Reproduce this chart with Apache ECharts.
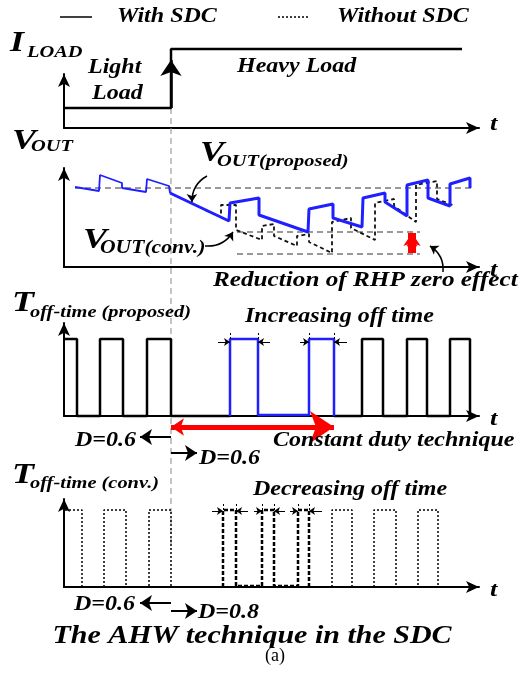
<!DOCTYPE html>
<html>
<head>
<meta charset="utf-8">
<script src="https://cdn.jsdelivr.net/npm/echarts@6/dist/echarts.min.js"></script>
<style>
  html, body { margin: 0; padding: 0; background: #fff; }
  #chart { width: 519px; height: 685px; }
</style>
</head>
<body>
<div id="chart"></div>
<script>
// t = position along the shared time axis, v = height above each panel's t axis
var iloadT = [0, 107, 107, 398];
var iloadV = [20, 20, 79, 79];

var voutLightT = [11, 35, 36, 58, 58, 82, 83, 105, 106];
var voutLightV = [80, 76, 92, 84, 79, 75, 88, 81, 74];
var voutPropT = [106, 165, 166, 195, 195, 244, 245, 269, 269, 298, 299, 321, 321, 343, 343, 364, 364, 386, 386, 406, 406];
var voutPropV = [74, 46, 64, 69, 52, 35, 58, 63, 49, 40, 69, 74, 65, 51, 82, 87, 69, 61, 83, 89, 79];
var voutConvT = [141, 157, 157, 172, 172, 198, 198, 210, 210, 233, 233, 245, 245, 268, 268, 287, 287, 311, 311, 330, 330, 352, 352, 373, 373, 391];
var voutConvV = [57, 50, 62, 62, 37, 27, 41, 43, 31, 21, 31, 33, 25, 14, 45, 49, 39, 27, 64, 68, 61, 45, 82, 86, 68, 61];
var refLevels = [79, 35, 13];
var refStart = [11, 173, 173];
var refEnd = [409, 356, 356];

var propPulse1T = [1, 13, 13, 36, 36, 59, 59, 83, 83, 107, 107, 166];
var propPulse1V = [77, 77, 0, 0, 77, 77, 0, 0, 77, 77, 0, 0];
var propBlueT = [166, 166, 194, 194, 245, 245, 270, 270];
var propBlueV = [0, 77, 77, 1, 1, 77, 77, 0];
var propPulse2T = [270, 298, 298, 319, 319, 343, 343, 363, 363, 386, 386, 406, 406];
var propPulse2V = [0, 0, 77, 77, 0, 0, 77, 77, 0, 0, 77, 77, 0];

var convPulse1T = [1, 18, 18, 40, 40, 62, 62, 85, 85, 107, 107];
var convPulse1V = [77, 77, 0, 0, 77, 77, 0, 0, 77, 77, 0];
var convMidT = [159, 159, 172, 172, 198, 198, 210, 210, 234, 234, 245, 245];
var convMidV = [0, 77, 77, 1, 1, 77, 77, 1, 1, 77, 77, 0];
var convPulse2T = [268, 268, 288, 288, 310, 310, 332, 332, 354, 354, 374, 374];
var convPulse2V = [0, 77, 77, 0, 0, 77, 77, 0, 0, 77, 77, 0];

var propEdgeArrows = [[[154, 74], [166, 74]], [[206, 74], [194, 74]], [[236, 74], [245, 74]], [[283, 74], [270, 74]]];
var convEdgeArrows = [[[148, 76], [159, 76]], [[184, 76], [172, 76]], [[190, 76], [198, 76]], [[221, 76], [210, 76]], [[226, 76], [234, 76]], [[258, 76], [245, 76]]];
var propEdgeTicks = [166, 194, 245, 270];
var convEdgeTicks = [159, 172, 198, 210, 234, 245];

// panel layout: y of t axis and top of y axis (px)
var panelAxisY = [128, 267, 416, 587];
var panelTop = [74, 168, 323, 499];

var chartDom = document.getElementById('chart');
var myChart = echarts.init(chartDom);

function pts(t, v) {
  return t.map(function (x, i) { return [x, v[i]]; });
}

var axisLine = {
  show: true,
  onZero: false,
  symbol: ['none', 'arrow'],
  symbolSize: [9, 13],
  lineStyle: { color: '#000', width: 2 }
};

var grids = [], xAxes = [], yAxes = [];
for (var i = 0; i < 4; i++) {
  var h = panelAxisY[i] - panelTop[i];
  grids.push({ left: 64, right: 40, top: panelTop[i], height: h });
  xAxes.push({ type: 'value', gridIndex: i, min: 0, max: 415, axisLine: axisLine,
    axisTick: { show: false }, axisLabel: { show: false }, splitLine: { show: false } });
  yAxes.push({ type: 'value', gridIndex: i, min: 0, max: h, axisLine: axisLine,
    axisTick: { show: false }, axisLabel: { show: false }, splitLine: { show: false } });
}

function trace(p, data, color, width, type) {
  return {
    type: 'line', xAxisIndex: p, yAxisIndex: p, data: data,
    symbol: 'none', clip: false, silent: true, z: 3,
    lineStyle: { color: color, width: width, type: type || 'solid' }
  };
}

function arrows(p, list, opt) {
  return {
    type: 'lines', coordinateSystem: 'cartesian2d', xAxisIndex: p, yAxisIndex: p,
    clip: false, silent: true, z: 4,
    symbol: opt.symbol || ['none', 'arrow'],
    symbolSize: opt.size || 7,
    lineStyle: { color: opt.color || '#000', width: opt.width || 1.2, type: opt.type || 'solid',
      curveness: opt.curve || 0, opacity: 1 },
    data: list.map(function (c) { return { coords: c }; })
  };
}

var series = [];
// divider at the load step
series.push(trace(0, [[107, 20], [107, -494]], '#8a8a8a', 1, [6, 4]));
// I_LOAD
series.push(trace(0, pts(iloadT, iloadV), '#000', 2.5));
series.push(arrows(0, [[[107, 20], [107, 68]]], { size: [10, 16], width: 2.5 }));
// V_OUT
refLevels.forEach(function (lv, k) {
  series.push(trace(1, [[refStart[k], lv], [refEnd[k], lv]], '#333', 1, [6, 4]));
});
series.push(trace(1, pts(voutConvT, voutConvV), '#111', 1.8, [4, 3]));
series.push(trace(1, pts(voutLightT, voutLightV), '#1f1fff', 1.8));
series.push(trace(1, pts(voutPropT, voutPropV), '#1f1fff', 3));
series.push(arrows(1, [[[348, 34], [348, 14]]], { symbol: ['arrow', 'arrow'], size: [13, 9], width: 8, color: '#ff0000' }));
series.push(arrows(1, [[[143, 91], [128, 65]], [[141, 21], [169, 35]], [[379, -5], [366, 21]]],
  { curve: -0.3, size: 8, width: 1.5 }));
// T_off proposed
series.push(trace(2, pts(propPulse1T, propPulse1V), '#000', 2.5));
series.push(trace(2, pts(propPulse2T, propPulse2V), '#000', 2.5));
series.push(trace(2, pts(propBlueT, propBlueV), '#1f1fff', 2.5));
series.push(arrows(2, propEdgeArrows, { size: 6, width: 1 }));
series.push(arrows(2, propEdgeTicks.map(function (t) { return [[t, 77], [t, 84]]; }), { symbol: 'none', width: 1, type: [2, 2] }));
series.push(arrows(2, [[[107, -11], [270, -11]]], { symbol: ['arrow', 'arrow'], size: [13, 24], width: 5, color: '#ff0000' }));
series.push(arrows(2, [[[107, -21], [76, -21]], [[107, -37], [133, -37]]], { size: [8, 12], width: 2 }));
// T_off conventional
series.push(trace(3, pts(convPulse1T, convPulse1V), '#000', 1.5, [2, 2]));
series.push(trace(3, pts(convPulse2T, convPulse2V), '#000', 1.5, [2, 2]));
series.push(trace(3, pts(convMidT, convMidV), '#000', 2.5, [4, 2]));
series.push(arrows(3, convEdgeArrows, { size: 6, width: 1 }));
series.push(arrows(3, convEdgeTicks.map(function (t) { return [[t, 77], [t, 83]]; }), { symbol: 'none', width: 1, type: [2, 2] }));
series.push(arrows(3, [[[107, -16], [76, -16]], [[107, -24], [133, -24]]], { size: [8, 12], width: 2 }));

function txt(text, x, y, size, opt) {
  opt = opt || {};
  return {
    type: 'text', x: x, y: y, scaleX: opt.sx == null ? 1.2 : opt.sx, silent: true, z: 10,
    style: {
      text: text,
      font: (opt.font || 'italic bold') + ' ' + size + 'px "Liberation Serif"',
      fill: '#000',
      textAlign: opt.align || 'left', textVerticalAlign: 'middle',
      align: opt.align || 'left', verticalAlign: 'middle'
    }
  };
}

var graphics = [
  { type: 'line', silent: true, shape: { x1: 60, y1: 17, x2: 92, y2: 17 }, style: { stroke: '#000', lineWidth: 1.5 } },
  { type: 'line', silent: true, shape: { x1: 278, y1: 17, x2: 310, y2: 17 }, style: { stroke: '#000', lineWidth: 1.5, lineDash: [2, 2] } },
  txt('With SDC', 117, 17, 20),
  txt('Without SDC', 337, 17, 20),
  txt('I', 10, 43, 30),
  txt('LOAD', 27, 53, 17),
  txt('Light', 88, 68, 20),
  txt('Load', 92, 94, 20),
  txt('Heavy Load', 237, 67, 20),
  txt('t', 490, 124, 22),
  txt('V', 12, 141, 30),
  txt('OUT', 31, 147, 17),
  txt('V', 200, 153, 30),
  txt('OUT(proposed)', 217, 162, 17),
  txt('V', 83, 240, 30),
  txt('OUT(conv.)', 100, 248, 18),
  txt('t', 490, 270, 22),
  txt('Reduction of RHP zero effect', 213, 281, 21),
  txt('T', 12, 303, 30),
  txt('off-time (proposed)', 30, 313, 17),
  txt('Increasing off time', 245, 317, 20),
  txt('t', 490, 419, 22),
  txt('D=0.6', 75, 441, 20),
  txt('D=0.6', 199, 459, 20),
  txt('Constant duty technique', 273, 441, 20),
  txt('T', 12, 475, 30),
  txt('off-time (conv.)', 30, 484, 17),
  txt('Decreasing off time', 253, 490, 20),
  txt('t', 490, 590, 22),
  txt('D=0.6', 74, 605, 20),
  txt('D=0.8', 198, 613, 20),
  txt('The AHW technique in the SDC', 252, 637, 25, { align: 'center' }),
  txt('(a)', 275, 656, 18, { font: 'normal', sx: 1, align: 'center' })
];

var option = {
  backgroundColor: '#fff',
  animation: false,
  grid: grids,
  xAxis: xAxes,
  yAxis: yAxes,
  series: series,
  graphic: graphics
};

option && myChart.setOption(option);
</script>
</body>
</html>
